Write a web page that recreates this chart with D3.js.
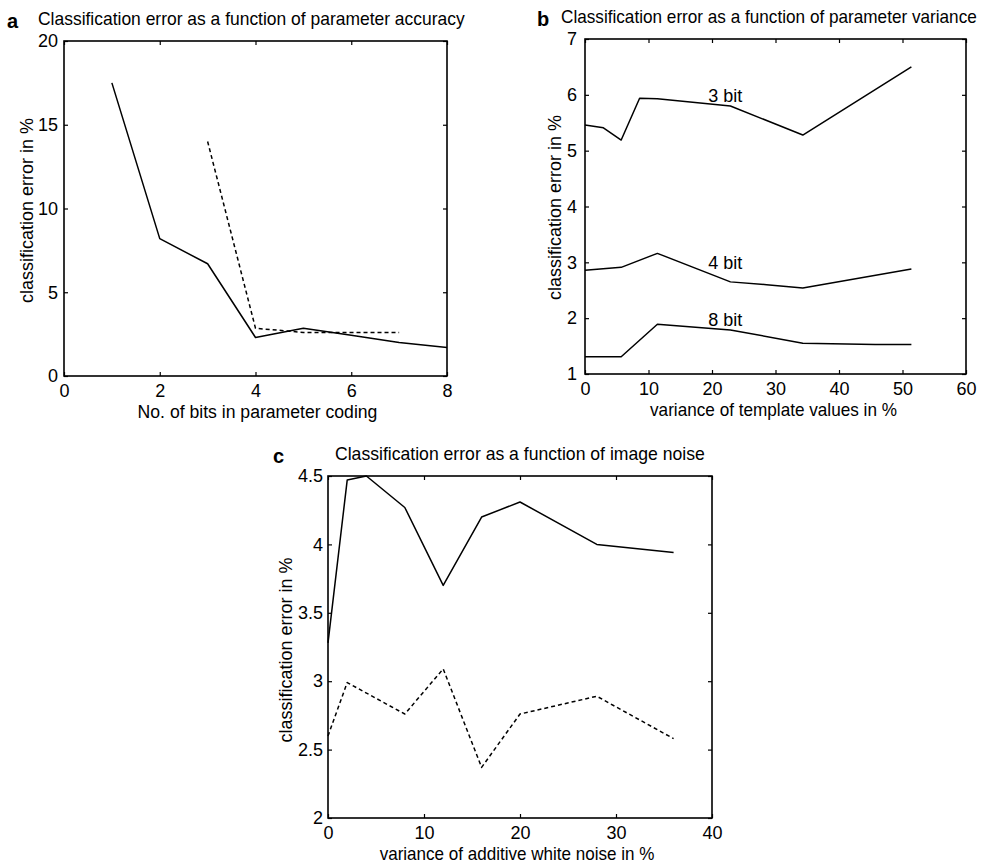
<!DOCTYPE html>
<html><head><meta charset="utf-8">
<script src="https://cdn.jsdelivr.net/npm/d3@7"></script>
<style>body{margin:0;background:#fff}svg{display:block}text{font-family:"Liberation Sans",Arial,sans-serif;fill:#000}</style>
</head><body><svg id="c" width="986" height="867"></svg>
<script>
// ---- Panel a data ----
const aSolidX = [1, 2, 3, 4, 5, 6, 7, 8];
const aSolidY = [17.5, 8.2, 6.7, 2.3, 2.85, 2.43, 2.0, 1.7];
const aDashX = [3, 4, 5, 6, 7];
const aDashY = [14.0, 2.85, 2.6, 2.6, 2.6];
const aXTicks = [0, 2, 4, 6, 8];
const aYTicks = [0, 5, 10, 15, 20];
// ---- Panel b data ----
const b3X = [0, 2.9, 5.7, 8.6, 11.4, 22.9, 34.3, 51.4];
const b3Y = [5.46, 5.41, 5.19, 5.94, 5.93, 5.80, 5.28, 6.50];
const b4X = [0, 5.7, 11.4, 22.9, 28.6, 34.3, 51.4];
const b4Y = [2.86, 2.91, 3.16, 2.65, 2.60, 2.54, 2.88];
const b8X = [0, 5.7, 11.4, 22.9, 34.3, 45.7, 51.4];
const b8Y = [1.31, 1.31, 1.89, 1.79, 1.55, 1.53, 1.53];
const bLabels = ["3 bit", "4 bit", "8 bit"];
const bXTicks = [0, 10, 20, 30, 40, 50, 60];
const bYTicks = [1, 2, 3, 4, 5, 6, 7];
// ---- Panel c data ----
const cSolidX = [0, 2, 4, 8, 12, 16, 20, 28, 36];
const cSolidY = [3.28, 4.47, 4.50, 4.27, 3.70, 4.20, 4.31, 4.00, 3.94];
const cDashX = [0, 2, 8, 12, 16, 20, 28, 36];
const cDashY = [2.60, 2.99, 2.76, 3.09, 2.37, 2.76, 2.89, 2.58];
const cXTicks = [0, 10, 20, 30, 40];
const cYTicks = [2, 2.5, 3, 3.5, 4, 4.5];

const svg = d3.select("#c");
const FS = 18;

// text horizontally condensed to a target length via a real transform
function squeezed(g, str, tx, ty, len, anchor, rot) {
  const t = g.append("text").attr("font-size", FS).attr("text-anchor", anchor).text(str);
  const natural = t.node().getComputedTextLength();
  const sx = Math.min(1, len / natural);
  t.attr("transform", `translate(${tx},${ty})${rot ? " rotate(-90)" : ""} scale(${sx},1)`);
  return t;
}

function panel(o) {
  const x = d3.scaleLinear().domain(o.xd).range([o.l, o.r]);
  const y = d3.scaleLinear().domain(o.yd).range([o.b, o.t]);
  const g = svg.append("g");
  const fmtY = o.fmtY || (d => d);
  const ax = g.append("g").attr("transform", `translate(0,${o.b})`)
    .call(d3.axisBottom(x).tickValues(o.xt).tickSize(-4).tickPadding(8));
  const ay = g.append("g").attr("transform", `translate(${o.l},0)`)
    .call(d3.axisLeft(y).tickValues(o.yt).tickSize(-4).tickPadding(o.ypad).tickFormat(fmtY));
  const at = g.append("g").attr("transform", `translate(0,${o.t})`)
    .call(d3.axisTop(x).tickValues(o.xt).tickSize(-4).tickFormat(""));
  const ar = g.append("g").attr("transform", `translate(${o.r},0)`)
    .call(d3.axisRight(y).tickValues(o.yt).tickSize(-4).tickFormat(""));
  [ax, ay, at, ar].forEach(a => {
    a.select(".domain").remove();
    a.selectAll("line").attr("stroke", "#000").attr("stroke-width", 1.2);
    a.selectAll("text").attr("font-size", FS).attr("font-family", '"Liberation Sans",Arial,sans-serif').attr("fill", "#000");
  });
  g.append("rect").attr("x", o.l).attr("y", o.t).attr("width", o.r - o.l).attr("height", o.b - o.t)
    .attr("fill", "none").attr("stroke", "#000").attr("stroke-width", 1.6);
  const line = d3.line().x(d => x(d[0])).y(d => y(d[1]));
  o.series.forEach(s => {
    g.append("path").datum(d3.zip(s.x, s.y)).attr("d", line)
      .attr("fill", "none").attr("stroke", "#000").attr("stroke-width", 1.5)
      .attr("stroke-linejoin", "round")
      .attr("stroke-dasharray", s.dash ? "4,3" : null);
  });
  squeezed(g, o.title, o.titleX, o.t - 16, o.titleLen, "start", false);
  g.append("text").attr("x", o.letterX).attr("y", o.t - 13).attr("font-size", 20)
    .attr("font-weight", "bold").text(o.letter);
  squeezed(g, o.xlabel, (o.l + o.r) / 2 + o.xlOff, o.b + 42, o.xlLen, "middle", false);
  squeezed(g, "classification error in %", o.ylX, (o.t + o.b) / 2 + o.ylOff, 197, "middle", true);
  return {x, y, g};
}

panel({
  l: 64, r: 447, t: 41, b: 376, xd: [0, 8], yd: [0, 20], xt: aXTicks, yt: aYTicks, ypad: 6,
  series: [{x: aSolidX, y: aSolidY}, {x: aDashX, y: aDashY, dash: true}],
  title: "Classification error as a function of parameter accuracy", titleX: 38, titleLen: 427,
  letter: "a", letterX: 7,
  xlabel: "No. of bits in parameter coding", xlOff: 2, xlLen: 240,
  ylX: 33, ylOff: 2
});

const pb = panel({
  l: 585, r: 966, t: 39, b: 374, xd: [0, 60], yd: [1, 7], xt: bXTicks, yt: bYTicks, ypad: 8,
  series: [{x: b3X, y: b3Y}, {x: b4X, y: b4Y}, {x: b8X, y: b8Y}],
  title: "Classification error as a function of parameter variance", titleX: 561, titleLen: 416,
  letter: "b", letterX: 537,
  xlabel: "variance of template values in %", xlOff: -2, xlLen: 247,
  ylX: 561, ylOff: 1
});
const labelPos = [[22.1, 5.87], [22.1, 2.88], [22.1, 1.86]];
bLabels.forEach((t, i) => {
  pb.g.append("text").attr("x", pb.x(labelPos[i][0])).attr("y", pb.y(labelPos[i][1]))
    .attr("font-size", FS).attr("text-anchor", "middle").text(t);
});

panel({
  l: 328, r: 712, t: 476, b: 818, xd: [0, 40], yd: [2, 4.5], xt: cXTicks, yt: cYTicks, ypad: 5,
  fmtY: d => d3.format("")(d),
  series: [{x: cSolidX, y: cSolidY}, {x: cDashX, y: cDashY, dash: true}],
  title: "Classification error as a function of image noise", titleX: 335, titleLen: 370,
  letter: "c", letterX: 273,
  xlabel: "variance of additive white noise in %", xlOff: -3, xlLen: 275,
  ylX: 292, ylOff: 3
});
</script></body></html>
